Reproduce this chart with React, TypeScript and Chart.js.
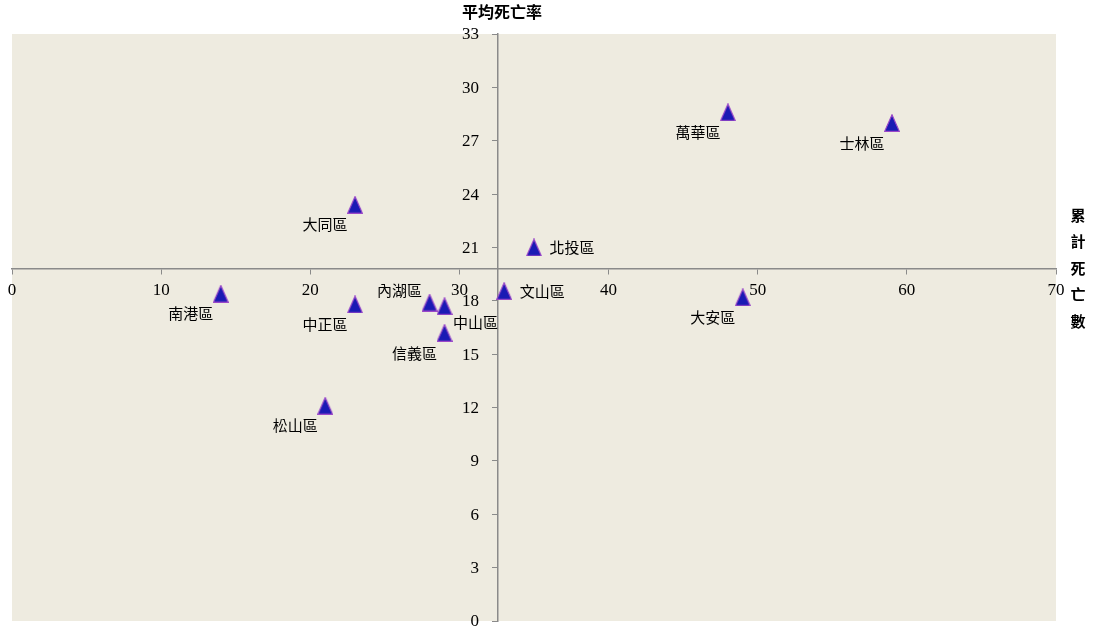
import React, { useEffect, useRef } from "react";
import { Chart, registerables } from "chart.js";
Chart.register(...registerables);

const DISTRICTS = ["南港區", "大同區", "北投區", "萬華區", "士林區", "中正區", "內湖區", "中山區", "信義區", "文山區", "大安區", "松山區"];
const CUM_DEATHS = [14, 23, 35, 48, 59, 23, 28, 29, 29, 33, 49, 21];
const AVG_RATE = [18.4, 23.4, 21.0, 28.6, 28.0, 17.8, 17.9, 17.7, 16.2, 18.55, 18.2, 12.1];
const LABEL_SIDE = ["bl", "bl", "r", "bl", "bl", "bl", "ul", "br", "bl", "r", "bl", "bl"];
const Y_TICKS = [0, 3, 6, 9, 12, 15, 18, 21, 24, 27, 30, 33];
const Y_TITLE = "平均死亡率";
const X_TITLE = "累計死亡數";

const mean = (a: number[]) => a.reduce((s, v) => s + v, 0) / a.length;
const CROSS_X = mean(CUM_DEATHS);
const CROSS_Y = mean(AVG_RATE);

const SIDE_OFFSET: Record<string, [number, number]> = {
  bl: [-30, 20],
  ul: [-30, -12],
  br: [31, 16],
  r: [38, 0],
};

const SERIF = '"Liberation Serif", "Times New Roman", serif';
const CJK = '"Noto Sans CJK TC", "Noto Sans CJK SC", sans-serif';

function makeMarker(): HTMLCanvasElement {
  const c = document.createElement("canvas");
  c.width = 16;
  c.height = 18;
  const ctx = c.getContext("2d")!;
  ctx.beginPath();
  ctx.moveTo(8, 0.8);
  ctx.lineTo(15.3, 17.3);
  ctx.lineTo(0.7, 17.3);
  ctx.closePath();
  ctx.fillStyle = "#1a1ab4";
  ctx.fill();
  ctx.strokeStyle = "#9a48c8";
  ctx.lineWidth = 1.2;
  ctx.stroke();
  return c;
}

export default function App() {
  const ref = useRef<HTMLCanvasElement>(null);
  useEffect(() => {
    document.body.style.margin = "0";
    const marker = makeMarker();
    const bgPlugin = {
      id: "bg",
      beforeDraw(chart: any) {
        const { ctx, chartArea: a } = chart;
        ctx.save();
        ctx.fillStyle = "#eeebe0";
        ctx.fillRect(a.left, a.top, a.right - a.left, a.bottom - a.top);
        ctx.restore();
      },
    };
    const labelPlugin = {
      id: "labels",
      afterDraw(chart: any) {
        const { ctx } = chart;
        const xs = chart.scales.x;
        const ys = chart.scales.y;
        const axisX = xs.getPixelForValue(CROSS_X);
        ctx.save();
        // y tick labels
        ctx.font = `17px ${SERIF}`;
        ctx.fillStyle = "#000";
        ctx.textAlign = "right";
        ctx.textBaseline = "middle";
        Y_TICKS.forEach((v) => {
          ctx.fillText(String(v), axisX - 19, ys.getPixelForValue(v) + 1);
        });
        // point labels
        const meta = chart.getDatasetMeta(0);
        ctx.font = `15px ${CJK}`;
        ctx.textAlign = "center";
        meta.data.forEach((pt: any, i: number) => {
          const [dx, dy] = SIDE_OFFSET[LABEL_SIDE[i]];
          ctx.fillText(DISTRICTS[i], pt.x + dx, pt.y + dy);
        });
        // titles
        ctx.font = `bold 16px ${CJK}`;
        ctx.fillText(Y_TITLE, axisX + 4, 12);
        ctx.font = `bold 15px ${CJK}`;
        Array.from(X_TITLE).forEach((ch, i) => {
          ctx.fillText(ch, 1078, 215 + i * 26.5);
        });
        ctx.restore();
      },
    };
    const chart = new Chart(ref.current!, {
      type: "scatter",
      data: {
        datasets: [
          {
            data: CUM_DEATHS.map((x, i) => ({ x, y: AVG_RATE[i] })),
            pointStyle: marker as any,
            pointRadius: 8,
            pointHoverRadius: 8,
          },
        ],
      },
      options: {
        animation: false,
        responsive: false,
        events: [],
        layout: { autoPadding: false, padding: { left: 12, top: 34, right: 37, bottom: 7 } },
        plugins: { legend: { display: false }, tooltip: { enabled: false } },
        scales: {
          x: {
            type: "linear",
            min: 0,
            max: 70,
            position: { y: CROSS_Y } as any,
            ticks: {
              stepSize: 10,
              padding: 0,
              color: "#000",
              font: { family: SERIF, size: 17, lineHeight: 2.0 },
            },
            grid: { drawOnChartArea: false, drawTicks: true, tickLength: 5, color: "#8a8a8a" },
            border: { display: true, color: "#8a8a8a", width: 1.5 },
          },
          y: {
            type: "linear",
            min: 0,
            max: 33,
            position: { x: CROSS_X } as any,
            afterBuildTicks: (scale: any) => {
              scale.ticks = Y_TICKS.map((v) => ({ value: v }));
            },
            ticks: { display: false, padding: 0 },
            grid: { drawOnChartArea: false, drawTicks: true, tickLength: 5, color: "#8a8a8a" },
            border: { display: true, color: "#8a8a8a", width: 1.5 },
          },
        },
      },
      plugins: [bgPlugin, labelPlugin],
    });
    return () => chart.destroy();
  }, []);
  return (
    <div style={{ width: 1093, height: 628 }}>
      <canvas ref={ref} width={1093} height={628} />
    </div>
  );
}
